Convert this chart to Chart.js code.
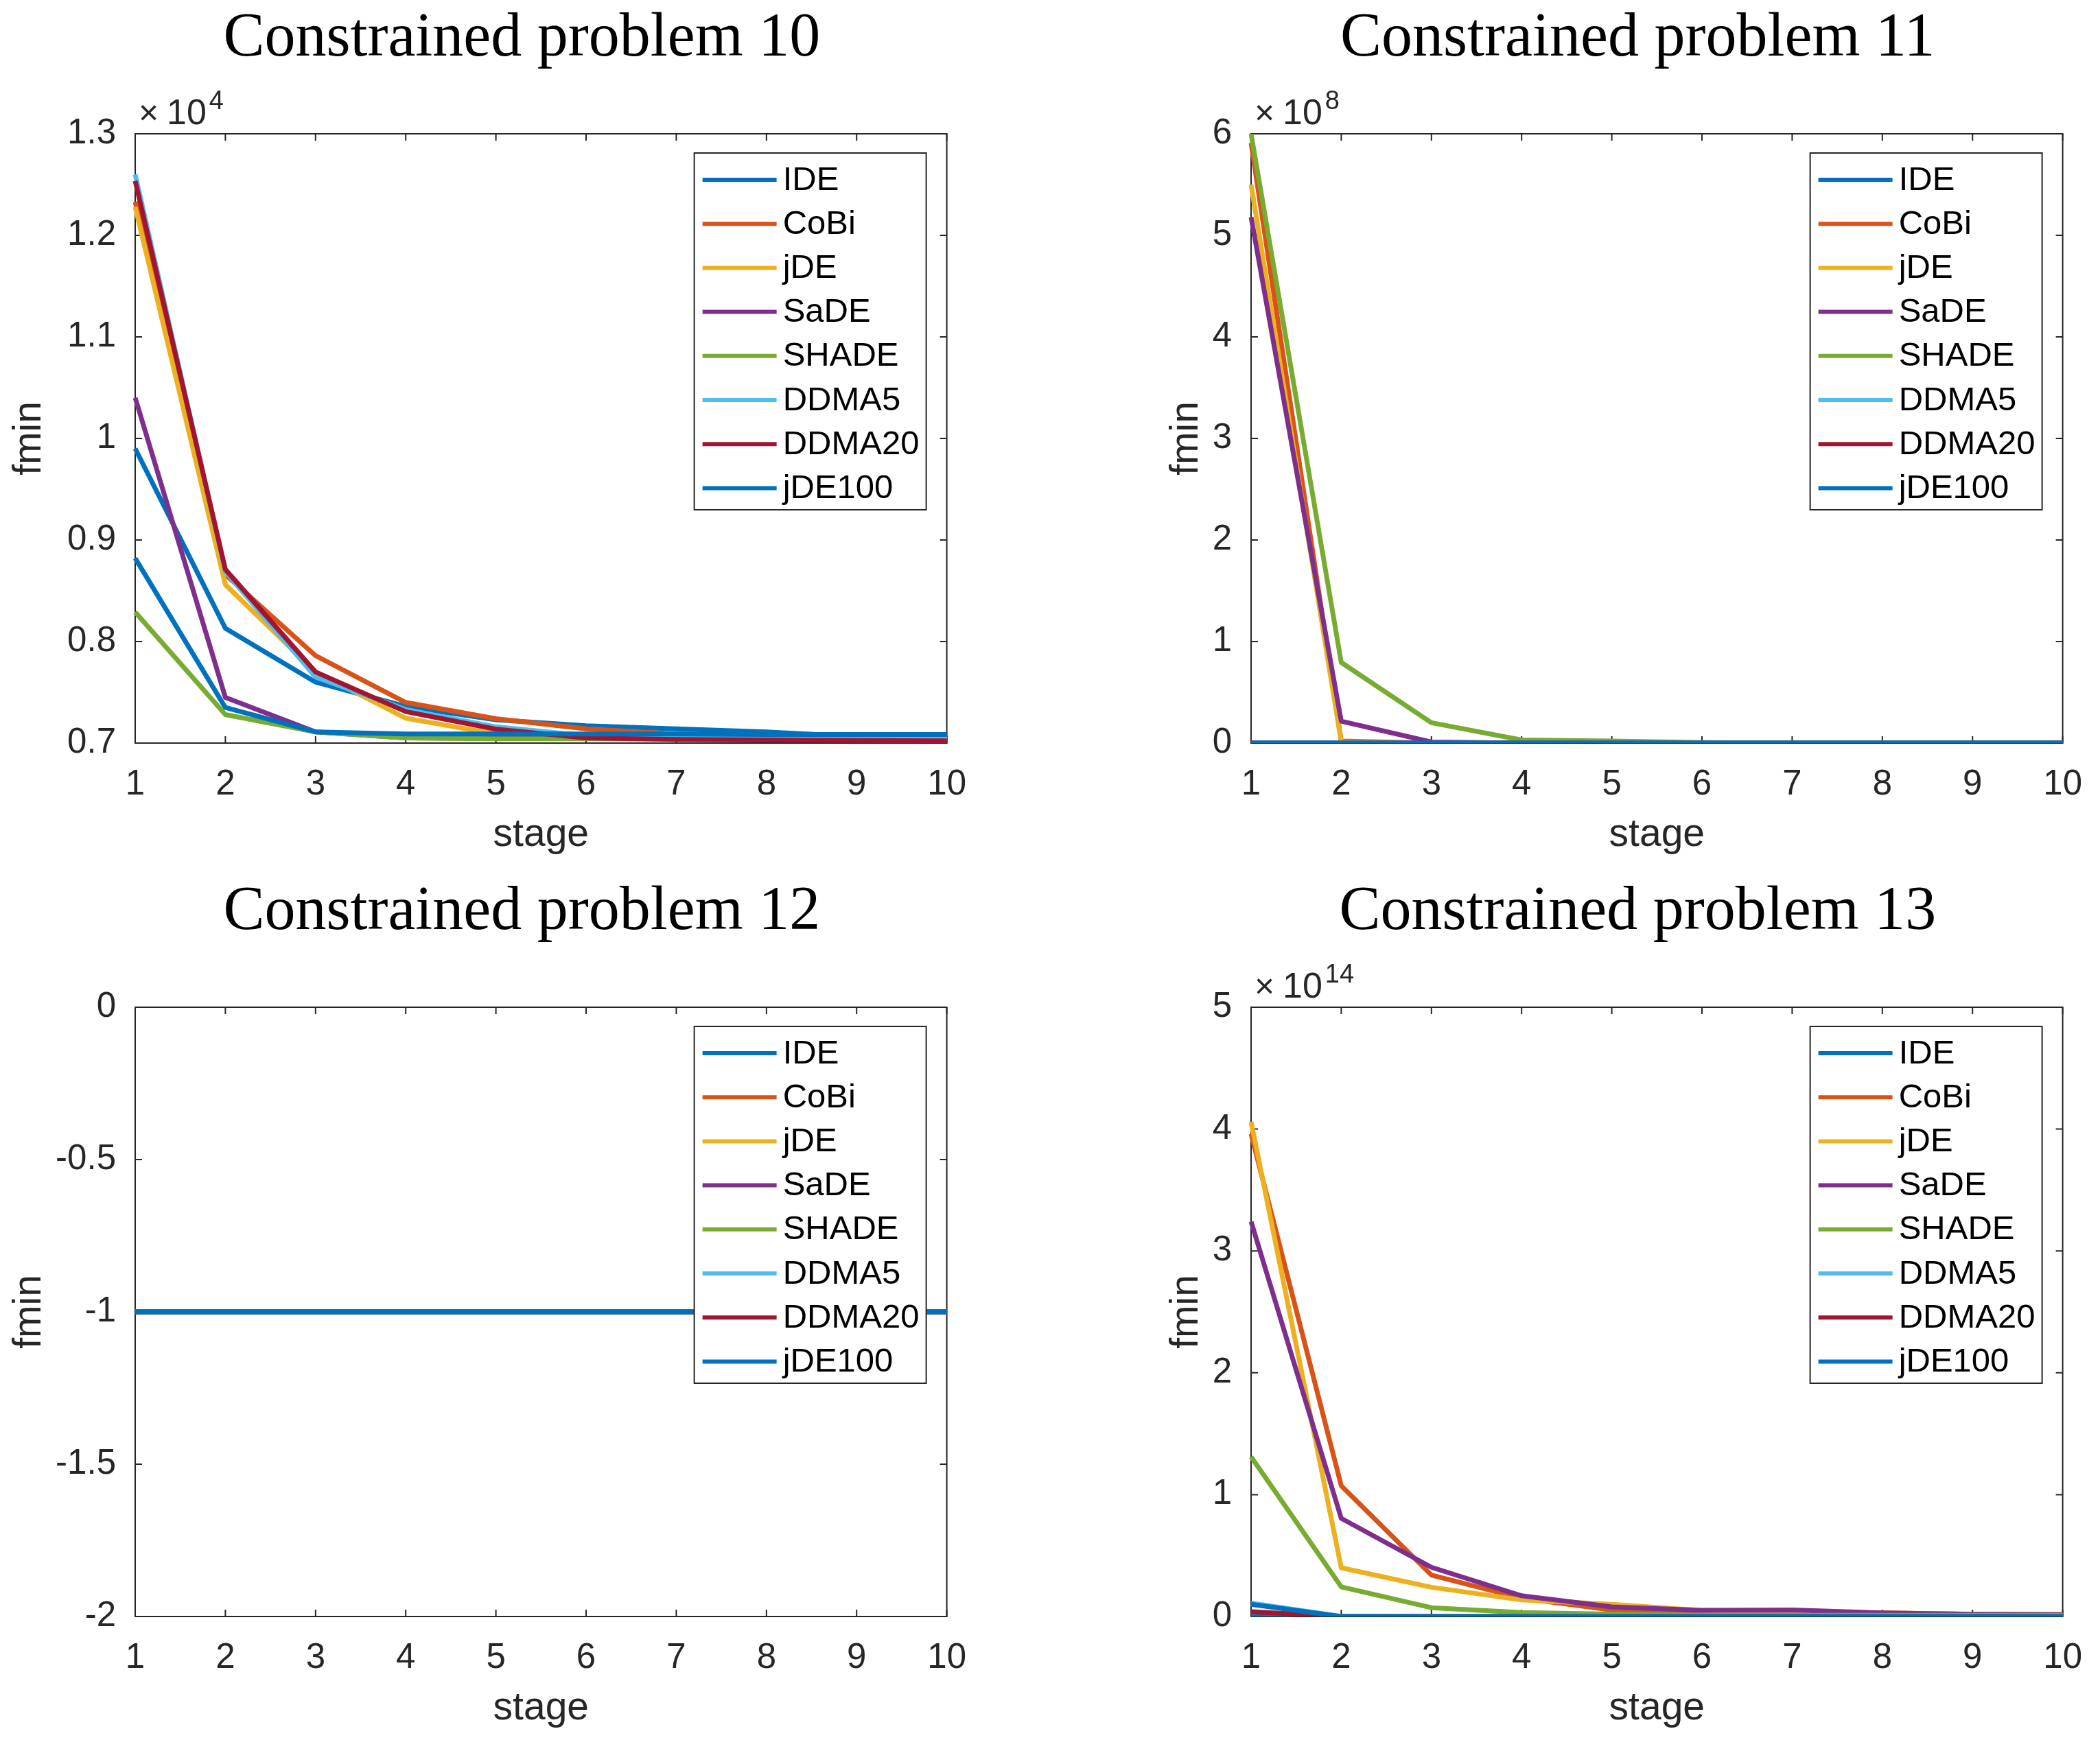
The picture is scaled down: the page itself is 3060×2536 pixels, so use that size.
<!DOCTYPE html>
<html lang="en">
<head>
<meta charset="UTF-8">
<title>Constrained problems 10-13</title>
<script src="https://cdn.jsdelivr.net/npm/chart.js@4"></script>
<style>
    html, body { margin: 0; padding: 0; background: #fff; }
    body { width: 3060px; height: 2536px; position: relative; overflow: hidden; }
    .panel { position: absolute; }
</style>
</head>
<body>

<div class="panel" id="wrap10"><canvas id="c10"></canvas></div>
<div class="panel" id="wrap11"><canvas id="c11"></canvas></div>
<div class="panel" id="wrap12"><canvas id="c12"></canvas></div>
<div class="panel" id="wrap13"><canvas id="c13"></canvas></div>

<script>
// x axis: stages
const stages = ['1', '2', '3', '4', '5', '6', '7', '8', '9', '10'];
const methods = ['IDE', 'CoBi', 'jDE', 'SaDE', 'SHADE', 'DDMA5', 'DDMA20', 'jDE100'];
const colors = ['#0072BD', '#D95319', '#EDB120', '#7E2F8E', '#77AC30', '#4DBEEE', '#A2142F', '#0072BD'];

// Constrained problem 10 (values x 10^4)
const cp10_IDE    = [0.990, 0.813, 0.760, 0.736, 0.723, 0.717, 0.714, 0.711, 0.7065, 0.7065];
const cp10_CoBi   = [1.233, 0.866, 0.786, 0.740, 0.724, 0.714, 0.709, 0.707, 0.705, 0.704];
const cp10_jDE    = [1.228, 0.856, 0.770, 0.7245, 0.709, 0.705, 0.704, 0.704, 0.704, 0.704];
const cp10_SaDE   = [1.040, 0.745, 0.711, 0.705, 0.7045, 0.7045, 0.7045, 0.7045, 0.7045, 0.7045];
const cp10_SHADE  = [0.829, 0.728, 0.711, 0.705, 0.7043, 0.7043, 0.7043, 0.7043, 0.7043, 0.7043];
const cp10_DDMA5  = [1.260, 0.869, 0.765, 0.733, 0.716, 0.7073, 0.705, 0.705, 0.705, 0.705];
const cp10_DDMA20 = [1.2535, 0.871, 0.770, 0.731, 0.7137, 0.705, 0.7035, 0.703, 0.7025, 0.7022];
const cp10_jDE100 = [0.882, 0.735, 0.711, 0.709, 0.709, 0.709, 0.709, 0.7085, 0.7085, 0.7085];

// Constrained problem 11 (values x 10^8)
const cp11_IDE    = [0, 0, 0, 0, 0, 0, 0, 0, 0, 0];
const cp11_CoBi   = [5.91, 0.02, 0, 0, 0, 0, 0, 0, 0, 0];
const cp11_jDE    = [5.50, 0.01, 0, 0, 0, 0, 0, 0, 0, 0];
const cp11_SaDE   = [5.18, 0.215, 0.01, 0, 0, 0, 0, 0, 0, 0];
const cp11_SHADE  = [6.00, 0.794, 0.20, 0.03, 0.02, 0.005, 0, 0, 0, 0];
const cp11_DDMA5  = [0, 0, 0, 0, 0, 0, 0, 0, 0, 0];
const cp11_DDMA20 = [0, 0, 0, 0, 0, 0, 0, 0, 0, 0];
const cp11_jDE100 = [0, 0, 0, 0, 0, 0, 0, 0, 0, 0];

// Constrained problem 12
const cp12_IDE    = [-1, -1, -1, -1, -1, -1, -1, -1, -1, -1];
const cp12_CoBi   = [-1, -1, -1, -1, -1, -1, -1, -1, -1, -1];
const cp12_jDE    = [-1, -1, -1, -1, -1, -1, -1, -1, -1, -1];
const cp12_SaDE   = [-1, -1, -1, -1, -1, -1, -1, -1, -1, -1];
const cp12_SHADE  = [-1, -1, -1, -1, -1, -1, -1, -1, -1, -1];
const cp12_DDMA5  = [-1, -1, -1, -1, -1, -1, -1, -1, -1, -1];
const cp12_DDMA20 = [-1, -1, -1, -1, -1, -1, -1, -1, -1, -1];
const cp12_jDE100 = [-1, -1, -1, -1, -1, -1, -1, -1, -1, -1];

// Constrained problem 13 (values x 10^14)
const cp13_IDE    = [0, 0, 0, 0, 0, 0, 0, 0, 0, 0];
const cp13_CoBi   = [3.96, 1.073, 0.34, 0.15, 0.054, 0.043, 0.036, 0.03, 0.018, 0.015];
const cp13_jDE    = [4.06, 0.40, 0.24, 0.136, 0.10, 0.05, 0.036, 0.03, 0.02, 0.015];
const cp13_SaDE   = [3.24, 0.805, 0.404, 0.17, 0.079, 0.05, 0.054, 0.03, 0.018, 0.015];
const cp13_SHADE  = [1.31, 0.243, 0.072, 0.032, 0.02, 0.01, 0.01, 0.01, 0.01, 0.01];
const cp13_DDMA5  = [0.11, 0, 0, 0, 0, 0, 0, 0, 0, 0];
const cp13_DDMA20 = [0.04, 0, 0, 0, 0, 0, 0, 0, 0, 0];
const cp13_jDE100 = [0.10, 0, 0, 0, 0, 0, 0, 0, 0, 0];

// y axis ranges
const yTicks10 = { min: 0.7, max: 1.3, step: 0.1 };
const yTicks11 = { min: 0, max: 6, step: 1 };
const yTicks12 = { min: -2, max: 0, step: 0.5 };
const yTicks13 = { min: 0, max: 5, step: 1 };

const AXIS_COLOR = '#262626';
const SANS = "'Liberation Sans', Arial, sans-serif";
const SERIF = "'Liberation Serif', 'Times New Roman', serif";

// Title, box, inward ticks, exponent and legend like a MATLAB axes
const matlabAxes = {
    id: 'matlabAxes',
    beforeDatasetsDraw(chart) {
        const { ctx, chartArea: a, scales: { x, y } } = chart;
        const tl = 10;
        ctx.save();
        ctx.strokeStyle = AXIS_COLOR;
        ctx.lineWidth = 2;
        ctx.strokeRect(a.left, a.top, a.right - a.left, a.bottom - a.top);
        ctx.beginPath();
        x.ticks.forEach((t, i) => {
            const px = x.getPixelForTick(i);
            ctx.moveTo(px, a.bottom); ctx.lineTo(px, a.bottom - tl);
            ctx.moveTo(px, a.top); ctx.lineTo(px, a.top + tl);
        });
        y.ticks.forEach((t, i) => {
            const py = y.getPixelForTick(i);
            ctx.moveTo(a.left, py); ctx.lineTo(a.left + tl, py);
            ctx.moveTo(a.right, py); ctx.lineTo(a.right - tl, py);
        });
        ctx.stroke();
        ctx.restore();
    },
    afterDraw(chart, args, opts) {
        const { ctx, chartArea: a } = chart;
        ctx.save();
        // title
        ctx.fillStyle = '#000';
        ctx.textAlign = 'center';
        ctx.textBaseline = 'alphabetic';
        ctx.font = '90px ' + SERIF;
        ctx.fillText(opts.title, (a.left + a.right) / 2 - 28, a.top - 114);
        // exponent
        if (opts.exponent) {
            ctx.fillStyle = AXIS_COLOR;
            ctx.textAlign = 'left';
            ctx.font = '50px ' + SANS;
            ctx.fillText('\u00D7', a.left + 5, a.top - 14);
            ctx.font = '52px ' + SANS;
            ctx.fillText('10', a.left + 46, a.top - 14);
            const w = ctx.measureText('10').width;
            ctx.font = '38px ' + SANS;
            ctx.fillText(String(opts.exponent), a.left + 46 + w + 4, a.top - 36);
        }
        // legend
        const bw = 338, bh = 520;
        const bx = a.right - 30 - bw, by = a.top + 28;
        ctx.fillStyle = '#fff';
        ctx.fillRect(bx, by, bw, bh);
        ctx.strokeStyle = AXIS_COLOR;
        ctx.lineWidth = 2;
        ctx.strokeRect(bx, by, bw, bh);
        ctx.font = '49px ' + SANS;
        ctx.textBaseline = 'middle';
        ctx.textAlign = 'left';
        chart.data.datasets.forEach((ds, i) => {
            const cy = by + 39 + i * 64.2;
            ctx.strokeStyle = ds.borderColor;
            ctx.lineWidth = 6;
            ctx.beginPath();
            ctx.moveTo(bx + 12, cy);
            ctx.lineTo(bx + 120, cy);
            ctx.stroke();
            ctx.fillStyle = '#000';
            ctx.fillText(ds.label, bx + 129, cy + 1);
        });
        ctx.restore();
    }
};

function makeChart(id, wrapId, pos, title, series, yr, exponent) {
    const yWidth = pos.yWidth;
    const areaW = 1183, areaH = 888, top = 195, xHeight = 170, rightPad = 50;
    const wrap = document.getElementById(wrapId);
    wrap.style.left = (pos.left - yWidth) + 'px';
    wrap.style.top = (pos.top - top) + 'px';
    const canvas = document.getElementById(id);
    canvas.width = yWidth + areaW + rightPad;
    canvas.height = top + areaH + xHeight;

    const datasets = methods.map((m, i) => ({
        label: m,
        data: series[i],
        borderColor: colors[i],
        backgroundColor: colors[i],
        borderWidth: 7,
        pointRadius: 0,
        tension: 0,
        fill: false,
        borderJoinStyle: 'round',
        order: methods.length - i   // later series drawn on top, like MATLAB
    }));

    return new Chart(canvas, {
        type: 'line',
        data: { labels: stages, datasets: datasets },
        options: {
            responsive: false,
            animation: false,
            events: [],
            layout: { padding: { left: 0, top: top, right: rightPad, bottom: 0 } },
            plugins: {
                legend: { display: false },
                tooltip: { enabled: false },
                title: { display: false },
                matlabAxes: { title: title, exponent: exponent }
            },
            scales: {
                x: {
                    type: 'category',
                    offset: false,
                    grid: { display: false },
                    border: { display: false },
                    ticks: { color: AXIS_COLOR, font: { family: SANS, size: 51 }, padding: 22, maxRotation: 0, autoSkip: false },
                    title: { display: true, text: 'stage', color: AXIS_COLOR, font: { family: SANS, size: 57 }, padding: { top: 0, bottom: 2 } },
                    afterFit: s => { s.height = xHeight; }
                },
                y: {
                    min: yr.min,
                    max: yr.max,
                    grid: { display: false },
                    border: { display: false },
                    ticks: {
                        stepSize: yr.step,
                        color: AXIS_COLOR,
                        font: { family: SANS, size: 51 },
                        padding: 20,
                        callback: v => String(Math.round(v * 100) / 100)
                    },
                    title: { display: true, text: 'fmin', color: AXIS_COLOR, font: { family: SANS, size: 57 }, padding: { top: 9, bottom: 0 } },
                    afterFit: s => { s.width = yWidth; }
                }
            }
        },
        plugins: [matlabAxes]
    });
}

makeChart('c10', 'wrap10', { left: 197, top: 195, yWidth: 197 }, 'Constrained problem 10',
    [cp10_IDE, cp10_CoBi, cp10_jDE, cp10_SaDE, cp10_SHADE, cp10_DDMA5, cp10_DDMA20, cp10_jDE100], yTicks10, 4);
makeChart('c11', 'wrap11', { left: 1823, top: 195, yWidth: 137 }, 'Constrained problem 11',
    [cp11_IDE, cp11_CoBi, cp11_jDE, cp11_SaDE, cp11_SHADE, cp11_DDMA5, cp11_DDMA20, cp11_jDE100], yTicks11, 8);
makeChart('c12', 'wrap12', { left: 197, top: 1468, yWidth: 197 }, 'Constrained problem 12',
    [cp12_IDE, cp12_CoBi, cp12_jDE, cp12_SaDE, cp12_SHADE, cp12_DDMA5, cp12_DDMA20, cp12_jDE100], yTicks12, null);
makeChart('c13', 'wrap13', { left: 1823, top: 1468, yWidth: 137 }, 'Constrained problem 13',
    [cp13_IDE, cp13_CoBi, cp13_jDE, cp13_SaDE, cp13_SHADE, cp13_DDMA5, cp13_DDMA20, cp13_jDE100], yTicks13, 14);
</script>

</body>
</html>
